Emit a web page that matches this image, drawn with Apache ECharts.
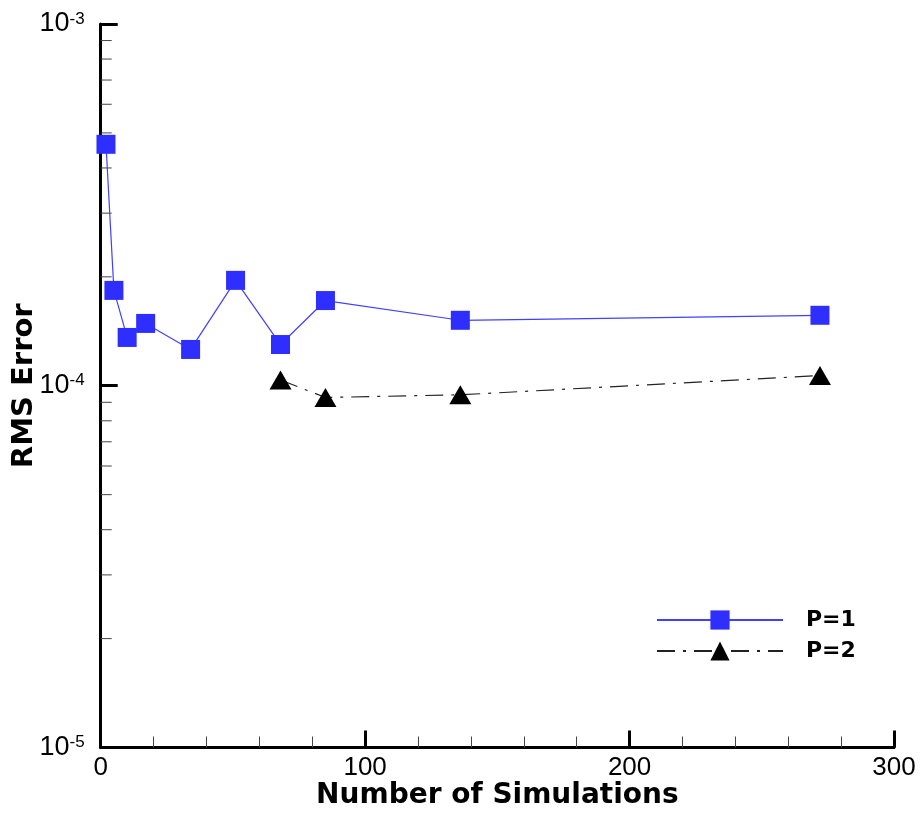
<!DOCTYPE html>
<html>
<head>
<meta charset="utf-8">
<script src="https://cdn.jsdelivr.net/npm/echarts@6/dist/echarts.min.js"></script>
<style>
html,body{margin:0;padding:0;background:#fff;}
#main{width:922px;height:815px;}
</style>
</head>
<body>
<div id="main"></div>
<script>
// ---- data ----
const p1X = [2, 5, 10, 17, 34, 51, 68, 85, 136, 272];
const p1Y = [4.65e-4, 1.835e-4, 1.36e-4, 1.487e-4, 1.26e-4, 1.956e-4, 1.30e-4, 1.72e-4, 1.517e-4, 1.566e-4];
const p2X = [68, 85, 136, 272];
const p2Y = [1.037e-4, 9.28e-5, 9.44e-5, 1.067e-4];
const seriesNames = ['P=1', 'P=2'];
const xTitle = 'Number of Simulations';
const yTitle = 'RMS Error';
const yMinorTicks = [2e-5, 3e-5, 4e-5, 5e-5, 6e-5, 7e-5, 8e-5, 9e-5, 2e-4, 3e-4, 4e-4, 5e-4, 6e-4, 7e-4, 8e-4, 9e-4];

const chart = echarts.init(document.getElementById('main'));
const tickFont = '"Liberation Sans", Arial, sans-serif';
const titleFont = '"DejaVu Sans", sans-serif';

chart.setOption({
  animation: false,
  backgroundColor: '#fff',
  grid: { left: 100.7, right: 28, top: 24, bottom: 67.5, containLabel: false, outerBoundsMode: 'none' },
  legend: {
    data: seriesNames,
    orient: 'vertical',
    left: 651,
    top: 604,
    itemWidth: 126,
    itemHeight: 24,
    itemGap: 9,
    textStyle: { fontFamily: titleFont, fontWeight: 'bold', fontSize: 22, color: '#000', padding: [0, 0, 0, 18] }
  },
  xAxis: {
    type: 'value',
    min: 0, max: 300, interval: 100,
    name: xTitle,
    nameLocation: 'middle',
    nameGap: 34,
    nameMoveOverlap: false,
    nameTextStyle: { fontFamily: titleFont, fontWeight: 'bold', fontSize: 28, color: '#000' },
    axisLine: { show: true, onZero: false, lineStyle: { color: '#000', width: 3 } },
    axisTick: { show: true, inside: true, length: 17, lineStyle: { color: '#000', width: 3 } },
    minorTick: { show: true, splitNumber: 5, length: 11, lineStyle: { color: '#444', width: 1 } },
    splitLine: { show: false },
    axisLabel: { margin: 7, fontFamily: tickFont, fontSize: 26, color: '#000' }
  },
  yAxis: {
    type: 'log',
    logBase: 10,
    min: 1e-5, max: 1e-3,
    name: yTitle,
    nameLocation: 'middle',
    nameGap: 62,
    nameRotate: 90,
    nameMoveOverlap: false,
    nameTextStyle: { fontFamily: titleFont, fontWeight: 'bold', fontSize: 29, color: '#000' },
    axisLine: { show: true, onZero: false, lineStyle: { color: '#000', width: 3 } },
    axisTick: { show: true, inside: true, length: 17, lineStyle: { color: '#000', width: 3 } },
    splitLine: { show: false },
    axisLabel: {
      margin: 16,
      formatter: function (v) {
        const e = Math.round(Math.log10(v));
        return '{b|10}{s|' + e + '}';
      },
      rich: {
        b: { fontFamily: tickFont, fontSize: 27, color: '#000', lineHeight: 27 },
        s: { fontFamily: tickFont, fontSize: 17, color: '#000', lineHeight: 27, verticalAlign: 'top' }
      }
    }
  },
  series: [
    {
      name: 'minorY',
      type: 'custom',
      silent: true,
      clip: false,
      data: yMinorTicks.map(v => [0, v]),
      renderItem: function (params, api) {
        const p = api.coord([0, api.value(1)]);
        return {
          type: 'line',
          shape: { x1: p[0], y1: p[1], x2: p[0] + 11, y2: p[1] },
          style: { stroke: '#444', lineWidth: 1 }
        };
      },
      z: 1
    },
    {
      name: seriesNames[0],
      type: 'line',
      data: p1X.map((x, i) => [x, p1Y[i]]),
      symbol: 'rect',
      symbolSize: 19,
      clip: false,
      itemStyle: { color: '#2e2eff' },
      lineStyle: { color: '#4040ff', width: 1.2 },
      z: 3
    },
    {
      name: seriesNames[1],
      type: 'line',
      data: p2X.map((x, i) => [x, p2Y[i]]),
      symbol: 'triangle',
      symbolSize: [22, 19],
      clip: false,
      itemStyle: { color: '#000' },
      lineStyle: { color: '#222', width: 1.2, type: [18, 8, 3, 8] },
      z: 4
    }
  ]
});
</script>
</body>
</html>
